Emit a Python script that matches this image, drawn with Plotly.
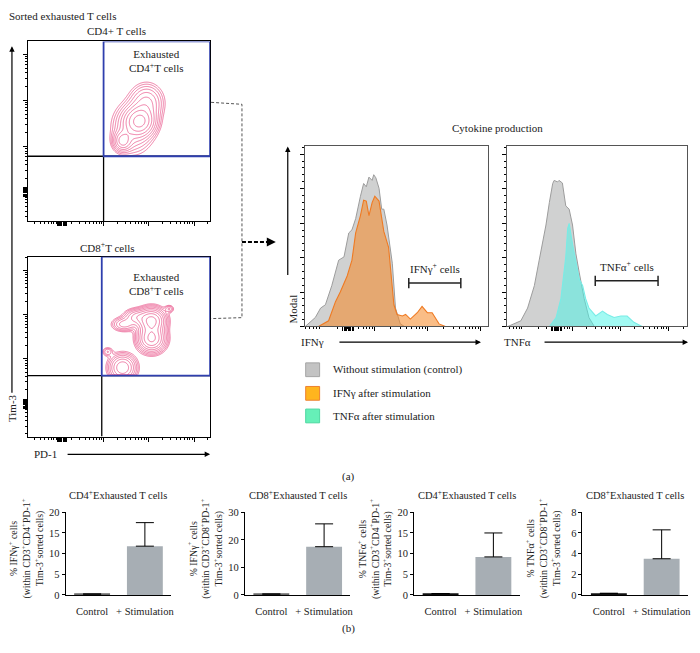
import numpy as np
import plotly.graph_objects as go

W, H = 700, 653
FONT = "Liberation Serif"

# ---------------- DATA ----------------
# (a) flow plots: 2-D density components in log10 fluorescence units (PD-1 x, Tim-3 y)
cd4_cx = [2.80, 2.42, 2.95, 2.65]
cd4_cy = [2.55, 2.12, 2.95, 2.40]
cd4_sx = [0.18, 0.11, 0.20, 0.25]
cd4_sy = [0.17, 0.12, 0.22, 0.30]
cd4_w = [1.00, 0.50, 0.35, 0.30]
cd4_gate = [2.00, 1.79]          # PD-1 / Tim-3 thresholds

cd8_cx = [3.06, 3.06, 2.45, 2.72, 2.42, 2.09, 3.45]
cd8_cy = [2.86, 2.46, 2.78, 2.95, 1.80, 2.16, 3.13]
cd8_sx = [0.16, 0.16, 0.15, 0.15, 0.16, 0.07, 0.06]
cd8_sy = [0.15, 0.16, 0.09, 0.10, 0.16, 0.06, 0.05]
cd8_w = [1.00, 0.95, 0.22, 0.28, 0.55, 0.12, 0.12]
cd8_gate = [1.96, 1.62]

# (a) cytokine histograms (x: log10 intensity, y: % of max)
ifn_ctrl_x = [1.69, 1.88, 1.98, 2.07, 2.19, 2.32, 2.42, 2.51, 2.57, 2.64, 2.73, 2.79, 2.84,
              2.89, 2.95, 2.98, 3.02, 3.08, 3.13, 3.17, 3.23, 3.33, 3.39, 3.48, 3.56]
ifn_ctrl_y = [0, 5.2, 10.7, 12.6, 23.7, 38.5, 40.4, 54.3, 56.1, 62.6, 75.6, 83.0, 81.1,
              86.7, 84.8, 88.1, 86.3, 80.2, 68.1, 68.1, 58.9, 36.7, 10.7, 1.5, 0]
ifn_stim_x = [1.94, 2.13, 2.26, 2.35, 2.48, 2.57, 2.64, 2.73, 2.79, 2.84, 2.89, 2.95, 3.00,
              3.08, 3.17, 3.26, 3.36, 3.42, 3.52, 3.58, 3.67, 3.80, 3.89, 3.99, 4.08, 4.21, 4.33]
ifn_stim_y = [0, 3.3, 14.4, 20.0, 29.3, 38.5, 54.3, 64.4, 73.3, 72.8, 64.4, 71.9, 75.6,
              72.8, 55.2, 45.9, 12.6, 7.0, 6.1, 7.0, 4.3, 8.0, 11.7, 8.0, 8.0, 1.5, 0]
tnf_ctrl_x = [1.67, 1.94, 2.08, 2.22, 2.32, 2.39, 2.46, 2.53, 2.60, 2.63, 2.70, 2.73, 2.80,
              2.87, 2.94, 3.01, 3.08, 3.15, 3.25, 3.35, 3.46]
tnf_ctrl_y = [0, 3.3, 10.7, 23.7, 38.5, 47.8, 58.9, 71.9, 83.0, 84.8, 83.9, 84.8, 83.3,
              70.0, 68.1, 58.9, 42.2, 31.1, 16.3, 5.2, 0]
tnf_stim_x = [2.53, 2.67, 2.77, 2.87, 2.91, 2.94, 3.01, 3.08, 3.15, 3.22, 3.28, 3.35, 3.49,
              3.63, 3.73, 3.87, 4.01, 4.14, 4.28, 4.45]
tnf_stim_y = [0, 5.2, 16.3, 40.4, 57.0, 59.8, 47.8, 38.5, 27.4, 23.7, 16.3, 10.7, 6.1,
              8.9, 7.0, 5.2, 6.1, 6.1, 2.4, 0]
ifn_gate = [3.64, 4.62, 25.2]
tnf_gate = [3.48, 4.78, 26.5]

# (b) bar charts
categories = ["Control", "+ Stimulation"]
ifn_cd4_mean = [0.2, 11.8]
ifn_cd4_sd = [float("nan"), 5.7]
ifn_cd8_mean = [0.3, 17.5]
ifn_cd8_sd = [float("nan"), 8.3]
tnf_cd4_mean = [0.3, 9.2]
tnf_cd4_sd = [float("nan"), 5.8]
tnf_cd8_mean = [0.15, 3.5]
tnf_cd8_sd = [float("nan"), 2.8]
bar_titles = ["CD4<sup>+</sup>Exhausted T cells", "CD8<sup>+</sup>Exhausted T cells",
              "CD4<sup>+</sup>Exhausted T cells", "CD8<sup>+</sup>Exhausted T cells"]
bar_ylabels = [
    "% IFNγ<sup>+</sup> cells<br>(within CD3<sup>+</sup>CD4<sup>+</sup>PD-1<sup>+</sup><br>Tim-3<sup>+</sup>sorted cells)",
    "% IFNγ<sup>+</sup> cells<br>(within CD3<sup>+</sup>CD8<sup>+</sup>PD-1<sup>+</sup><br>Tim-3<sup>+</sup>sorted cells)",
    "% TNFα<sup>+</sup> cells<br>(within CD3<sup>+</sup>CD4<sup>+</sup>PD-1<sup>+</sup><br>Tim-3<sup>+</sup>sorted cells)",
    "% TNFα<sup>+</sup> cells<br>(within CD3<sup>+</sup>CD8<sup>+</sup>PD-1<sup>+</sup><br>Tim-3<sup>+</sup>sorted cells)",
]

# ---------------- HELPERS ----------------
def dx(a, b):
    return [a / W, b / W]

def dy(top, bottom):
    return [1 - bottom / H, 1 - top / H]

def ann(text, x, y, size=11, xa="center", ya="middle", angle=0, color="#222"):
    return dict(text=text, x=x / W, y=1 - y / H, xref="paper", yref="paper", showarrow=False,
                font=dict(family=FONT, size=size, color=color), xanchor=xa, yanchor=ya,
                textangle=angle)

def arrow(x0, y0, x1, y1, width=1.2, size=0.9):
    return dict(text="", x=x1 / W, y=1 - y1 / H, xref="paper", yref="paper",
                ax=x0 - x1, ay=y0 - y1, axref="pixel", ayref="pixel", showarrow=True,
                arrowhead=2, arrowsize=size, arrowwidth=width, arrowcolor="black")

def pline(x0, y0, x1, y1, color="black", width=1, dash="solid"):
    return dict(type="line", xref="paper", yref="paper", x0=x0 / W, y0=1 - y0 / H,
                x1=x1 / W, y1=1 - y1 / H, line=dict(color=color, width=width, dash=dash))

def log_minor(lo, hi):
    out = []
    for d in range(-1, 7):
        for k in range(2, 10):
            v = d + np.log10(k)
            if lo < v < hi:
                out.append(float(v))
    return out

def cluster(c):
    return [c + 0.025 * i for i in range(-4, 5)]

def density(cx, cy, sx, sy, w, gate, xr, yr):
    gx = np.linspace(xr[0], xr[1], 300)
    gy = np.linspace(yr[0], yr[1], 300)
    X, Y = np.meshgrid(gx, gy)
    Z = np.zeros_like(X)
    for a, b, s, t, ww in zip(cx, cy, sx, sy, w):
        Z += ww * np.exp(-((X - a) ** 2 / (2 * s * s) + (Y - b) ** 2 / (2 * t * t)))
    Z = np.log10(Z / Z.max() + 1e-9)
    Z[(X < gate[0]) | (Y < gate[1])] = -9
    return gx, gy, Z

fig = go.Figure()

# ---------------- FLOW PLOTS ----------------
flow_xr = [0.33, 4.35]
flow_specs = [
    ("x", "y", cd4_cx, cd4_cy, cd4_sx, cd4_sy, cd4_w, cd4_gate, [0.38, 4.28], 37, 220, 1.08, 1.02),
    ("x2", "y2", cd8_cx, cd8_cy, cd8_sx, cd8_sy, cd8_w, cd8_gate, [0.24, 4.31], 256, 439, 1.08, 0.98),
]
layout_axes = {}
shapes = []
for i, (xa, ya, cx, cy, sx, sy, w, gate, yr, top, bot, xc, yc) in enumerate(flow_specs):
    gx, gy, Z = density(cx, cy, sx, sy, w, gate, flow_xr, yr)
    fig.add_trace(go.Contour(x=gx, y=gy, z=Z, xaxis=xa, yaxis=ya, showscale=False,
                             contours=dict(coloring="lines", start=-1.45, end=-0.08, size=0.17),
                             colorscale=[[0, "#e6457f"], [1, "#e6457f"]],
                             line=dict(width=0.7), hoverinfo="skip"))
    axn = "" if i == 0 else "2"
    base = dict(showline=True, mirror=True, linecolor="black", linewidth=1, showgrid=False,
                zeroline=False, showticklabels=False, ticks="outside", ticklen=4,
                tickcolor="black", tickmode="array")
    layout_axes["xaxis" + axn] = dict(base, domain=dx(28, 211), range=flow_xr,
                                      tickvals=[2, 3, 4] + cluster(xc),
                                      minor=dict(tickvals=log_minor(*flow_xr), ticklen=2,
                                                 ticks="outside", tickcolor="black"),
                                      anchor=ya)
    layout_axes["yaxis" + axn] = dict(base, domain=dy(top, bot), range=yr,
                                      tickvals=[2, 3, 4] + cluster(yc),
                                      minor=dict(tickvals=log_minor(*yr), ticklen=2,
                                                 ticks="outside", tickcolor="black"),
                                      anchor=xa)
    shapes += [
        dict(type="line", xref=xa, yref=ya, x0=gate[0], x1=gate[0], y0=yr[0], y1=gate[1],
             line=dict(color="black", width=1.3)),
        dict(type="line", xref=xa, yref=ya, x0=flow_xr[0], x1=flow_xr[1], y0=gate[1], y1=gate[1],
             line=dict(color="black", width=1.3)),
        dict(type="rect", xref=xa, yref=ya, x0=gate[0], x1=flow_xr[1], y0=gate[1], y1=yr[1],
             line=dict(color="#2f3fae", width=1.8)),
    ]

# ---------------- HISTOGRAMS ----------------
hist_specs = [
    ("x3", "y3", 306, 490, [1.68, 5.13], ifn_ctrl_x, ifn_ctrl_y, ifn_stim_x, ifn_stim_y,
     "rgba(245,135,35,0.55)", "#ef7a22", ifn_gate, "IFNγ<sup>+</sup> cells", 2.5),
    ("x4", "y4", 509, 690, [1.65, 5.38], tnf_ctrl_x, tnf_ctrl_y, tnf_stim_x, tnf_stim_y,
     "rgba(70,245,232,0.5)", "#78ece6", tnf_gate, "TNFα<sup>+</sup> cells", 2.68),
]
annotations = []
for xa, ya, l, r, xr, cxv, cyv, sxv, syv, fc, lc, g, glab, xc in hist_specs:
    fig.add_trace(go.Scatter(x=cxv, y=cyv, xaxis=xa, yaxis=ya, mode="lines", fill="tozeroy",
                             fillcolor="rgba(200,201,201,0.85)", line=dict(color="#9c9c9c", width=1),
                             hoverinfo="skip", showlegend=False))
    fig.add_trace(go.Scatter(x=sxv, y=syv, xaxis=xa, yaxis=ya, mode="lines", fill="tozeroy",
                             fillcolor=fc, line=dict(color=lc, width=1.1),
                             hoverinfo="skip", showlegend=False))
    base = dict(showline=True, mirror=True, linecolor="#555", linewidth=1, showgrid=False,
                zeroline=False, showticklabels=False, ticks="outside", tickcolor="black")
    layout_axes["xaxis" + xa[1:]] = dict(base, domain=dx(l, r), range=xr, anchor=ya,
                                         tickmode="array", tickvals=[3, 4, 5] + cluster(xc),
                                         ticklen=4,
                                         minor=dict(tickvals=log_minor(*xr), ticklen=2,
                                                    ticks="outside", tickcolor="black"))
    layout_axes["yaxis" + ya[1:]] = dict(base, domain=dy(143, 327), range=[0, 105], anchor=xa,
                                         dtick=20, tick0=0, ticklen=4,
                                         minor=dict(dtick=4, ticklen=2, ticks="outside",
                                                    tickcolor="black"))
    shapes += [
        dict(type="line", xref=xa, yref=ya, x0=g[0], x1=g[1], y0=g[2], y1=g[2],
             line=dict(color="#222", width=1.5)),
        dict(type="line", xref=xa, yref=ya, x0=g[0], x1=g[0], y0=g[2] - 3, y1=g[2] + 3,
             line=dict(color="#222", width=1.5)),
        dict(type="line", xref=xa, yref=ya, x0=g[1], x1=g[1], y0=g[2] - 3, y1=g[2] + 3,
             line=dict(color="#222", width=1.5)),
    ]
    annotations.append(dict(text=glab, x=(g[0] + g[1]) / 2, y=g[2] + 3.5, xref=xa, yref=ya,
                            showarrow=False, yanchor="bottom",
                            font=dict(family=FONT, size=11, color="#222")))

# ---------------- BAR CHARTS ----------------
bar_specs = [
    ("x5", "y5", 66, 172, ifn_cd4_mean, ifn_cd4_sd, 20, 5, "#6a6a6a"),
    ("x6", "y6", 246, 352, ifn_cd8_mean, ifn_cd8_sd, 30, 10, "#6a6a6a"),
    ("x7", "y7", 416, 522, tnf_cd4_mean, tnf_cd4_sd, 20, 5, "#111111"),
    ("x8", "y8", 585, 691, tnf_cd8_mean, tnf_cd8_sd, 8, 2, "#111111"),
]
for k, (xa, ya, l, r, mean, sd, ymax, dt, cc) in enumerate(bar_specs):
    fig.add_trace(go.Bar(x=categories, y=mean, xaxis=xa, yaxis=ya, width=0.68,
                         marker=dict(color=[cc, "#a7aeb4"], line=dict(width=0)),
                         error_y=dict(type="data", array=sd, arrayminus=[0, 0], symmetric=False,
                                      color="black", thickness=1, width=9),
                         hoverinfo="skip", showlegend=False))
    layout_axes["xaxis" + xa[1:]] = dict(domain=dx(l, r), anchor=ya, type="category",
                                         range=[-0.5, 1.5], showline=True, linecolor="black",
                                         linewidth=1, ticks="", showgrid=False, zeroline=False,
                                         ticklabelstandoff=7,
                                         tickfont=dict(family=FONT, size=10.5, color="#222"))
    layout_axes["yaxis" + ya[1:]] = dict(domain=dy(516, 600), anchor=xa, range=[0, ymax],
                                         dtick=dt, tick0=0, showline=True, linecolor="black",
                                         linewidth=1, ticks="outside", ticklen=3,
                                         tickcolor="black", showgrid=False, zeroline=False,
                                         tickfont=dict(family=FONT, size=10.5, color="#222"))
    annotations.append(ann(bar_titles[k], (l + r) / 2, 498, size=10.5))
    annotations.append(ann(bar_ylabels[k], l - 39, 553, size=9.8, angle=-90))

# ---------------- TEXT / ARROWS ----------------
annotations += [
    ann("Sorted exhausted T cells", 7, 11, xa="left"),
    ann("CD4+ T cells", 117, 26),
    ann("Exhausted<br>CD4<sup>+</sup>T cells", 157, 57),
    ann("CD8<sup>+</sup>T cells", 108, 246),
    ann("Exhausted<br>CD8<sup>+</sup>T cells", 157, 284),
    ann("Tim-3", 12, 410, angle=-90),
    ann("PD-1", 46, 457),
    ann("Cytokine production", 500, 125),
    ann("Modal", 294, 309, angle=-90),
    ann("IFNγ", 314, 343),
    ann("TNFα", 520, 343),
    ann("Without stimulation (control)", 332, 371, xa="left"),
    ann("IFNγ after stimulation", 332, 395, xa="left"),
    ann("TNFα after stimulation", 332, 418, xa="left"),
    ann("(a)", 350, 480),
    ann("(b)", 350, 634),
    arrow(12, 390, 12, 42),
    arrow(67, 457, 211, 457),
    arrow(289, 274, 289, 144),
    arrow(340, 343, 483, 343),
    arrow(546, 343, 691, 343),
    arrow(266, 241, 277, 241, width=2),
]

shapes += [
    dict(type="path", xref="paper", yref="paper",
         path="M {} {} L {} {} L {} {} L {} {}".format(212 / W, 1 - 99 / H, 243 / W, 1 - 101 / H,
                                                       243 / W, 1 - 318 / H, 212 / W, 1 - 319 / H),
         line=dict(color="#555", width=1, dash="3px,2px")),
    pline(243, 241, 270, 241, width=2, dash="4px,2px"),
    dict(type="rect", xref="paper", yref="paper", x0=307 / W, x1=321 / W, y0=1 - 378 / H, y1=1 - 364 / H,
         fillcolor="#c3c3c3", line=dict(color="#a5a5a5", width=1)),
    dict(type="rect", xref="paper", yref="paper", x0=307 / W, x1=321 / W, y0=1 - 402 / H, y1=1 - 388 / H,
         fillcolor="#ffb51e", line=dict(color="#ee8030", width=1)),
    dict(type="rect", xref="paper", yref="paper", x0=307 / W, x1=321 / W, y0=1 - 425 / H, y1=1 - 411 / H,
         fillcolor="#66f0b8", line=dict(color="#4fd8a2", width=1)),
]

fig.update_layout(width=W, height=H, margin=dict(l=0, r=0, t=0, b=0),
                  paper_bgcolor="white", plot_bgcolor="white", showlegend=False,
                  font=dict(family=FONT, size=11, color="#222"),
                  annotations=annotations, shapes=shapes, **layout_axes)
fig.write_html("out.html", config={"displayModeBar": False},
               post_script="document.body.style.margin='0px';")
